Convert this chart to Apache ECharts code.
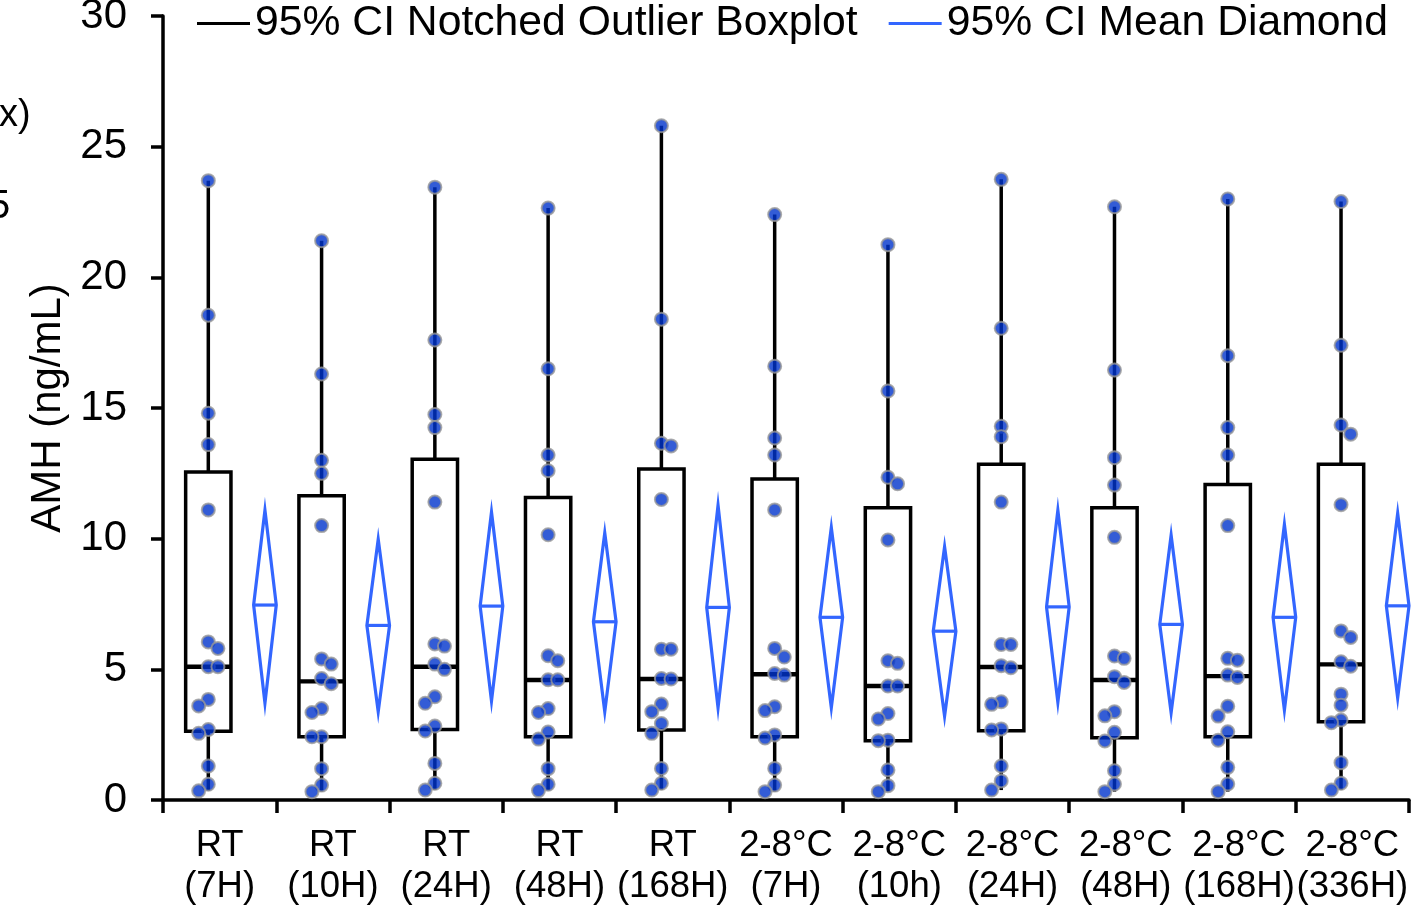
<!DOCTYPE html>
<html>
<head>
<meta charset="utf-8">
<script src="https://cdn.jsdelivr.net/npm/echarts@6/dist/echarts.min.js"></script>
<style>
  html, body { margin: 0; padding: 0; background: #ffffff; }
  #chart { width: 1427px; height: 905px; }
</style>
</head>
<body>
<div id="chart"></div>
<script>
// Storage conditions (x categories)
const categories = [
  'RT\n(7H)', 'RT\n(10H)', 'RT\n(24H)', 'RT\n(48H)', 'RT\n(168H)',
  '2-8°C\n(7H)', '2-8°C\n(10h)', '2-8°C\n(24H)', '2-8°C\n(48H)', '2-8°C\n(168H)', '2-8°C\n(336H)'
];

// Individual AMH results (ng/mL) for each condition
const amhRT7 = [23.7, 18.55, 14.8, 13.6, 11.1, 6.05, 5.8, 5.1, 5.1, 3.85, 3.6, 2.7, 2.55, 1.3, 0.6, 0.35];
const amhRT10 = [21.4, 16.3, 13.0, 12.5, 10.5, 5.4, 5.2, 4.65, 4.45, 3.5, 3.35, 2.42, 2.42, 1.2, 0.57, 0.32];
const amhRT24 = [23.45, 17.6, 14.75, 14.25, 11.4, 5.97, 5.89, 5.2, 5.0, 3.95, 3.7, 2.83, 2.64, 1.4, 0.64, 0.38];
const amhRT48 = [22.65, 16.5, 13.2, 12.6, 10.15, 5.52, 5.33, 4.6, 4.6, 3.5, 3.35, 2.6, 2.33, 1.2, 0.6, 0.36];
const amhRT168 = [25.8, 18.4, 13.65, 13.55, 11.5, 5.77, 5.77, 4.65, 4.63, 3.67, 3.38, 2.93, 2.55, 1.21, 0.64, 0.38];
const amhC7 = [22.4, 16.6, 13.85, 13.2, 11.1, 5.8, 5.47, 4.84, 4.78, 3.57, 3.42, 2.49, 2.37, 1.21, 0.57, 0.32];
const amhC10 = [21.25, 15.65, 12.35, 12.1, 9.95, 5.33, 5.23, 4.36, 4.36, 3.31, 3.1, 2.29, 2.27, 1.15, 0.55, 0.32];
const amhC24 = [23.75, 18.05, 14.3, 13.9, 11.4, 5.95, 5.95, 5.14, 5.06, 3.76, 3.66, 2.72, 2.68, 1.3, 0.73, 0.38];
const amhC48 = [22.7, 16.45, 13.1, 12.05, 10.05, 5.51, 5.42, 4.72, 4.5, 3.38, 3.22, 2.59, 2.26, 1.12, 0.61, 0.32];
const amhC168 = [23.0, 17.0, 14.25, 13.2, 10.5, 5.42, 5.35, 4.78, 4.69, 3.59, 3.21, 2.61, 2.29, 1.25, 0.61, 0.32];
const amhC336 = [22.9, 17.4, 14.35, 14.0, 11.3, 6.47, 6.22, 5.29, 5.12, 4.05, 3.63, 3.06, 2.96, 1.43, 0.64, 0.38];

// Box plot summaries: [lower whisker, Q1, median, Q3, upper whisker]
const boxStats = [
  [0.35, 2.63, 5.10, 12.55, 23.70],
  [0.32, 2.42, 4.54, 11.64, 21.40],
  [0.38, 2.70, 5.10, 13.04, 23.45],
  [0.36, 2.42, 4.59, 11.58, 22.65],
  [0.38, 2.68, 4.63, 12.67, 25.80],
  [0.32, 2.42, 4.81, 12.28, 22.40],
  [0.32, 2.27, 4.36, 11.18, 21.25],
  [0.38, 2.65, 5.09, 12.85, 23.75],
  [0.32, 2.38, 4.59, 11.18, 22.70],
  [0.32, 2.42, 4.74, 12.07, 23.00],
  [0.38, 2.99, 5.19, 12.85, 22.90]
];

// Mean with 95% CI: [lower, mean, upper]
const meanCI = [
  [3.71, 7.46, 11.09],
  [3.38, 6.68, 9.98],
  [3.79, 7.42, 11.02],
  [3.38, 6.82, 10.22],
  [3.53, 7.37, 11.28],
  [3.53, 6.99, 10.43],
  [3.21, 6.46, 9.69],
  [3.74, 7.39, 11.09],
  [3.34, 6.72, 10.13],
  [3.44, 6.99, 10.54],
  [3.91, 7.43, 10.97]
];

const groups = [amhRT7, amhRT10, amhRT24, amhRT48, amhRT168, amhC7, amhC10, amhC24, amhC48, amhC168, amhC336];

const yMin = 0, yMax = 30, yStep = 5;
const BOX_NAME = '95% CI Notched Outlier Boxplot';
const DIAMOND_NAME = '95% CI Mean Diamond';

// Layout inside each category slot (slot width = 1 on the helper value axis)
const BOX_POS = 0.4, BOX_HALF = 0.2;
const DIA_POS = 0.9, DIA_HALF = 0.1;

const FONT = "'Liberation Sans', Arial, Helvetica, sans-serif";
const BLUE_LINE = '#3366ff';
const LINE_W = 3.5;

// Simple swarm layout: nudge a point sideways when it would sit on top of another one
function swarm(vals, center) {
  const V_GAP = 0.4, X_STEP = 0.085, X_GAP = 0.07;
  const order = vals.map((v, k) => k).sort((a, b) => vals[b] - vals[a]);
  const placed = [];
  const out = [];
  order.forEach((k, rank) => {
    const v = vals[k];
    const dir = rank < vals.length / 2 + 1 ? 1 : -1;
    let off = 0, n = 0;
    while (placed.some(p => Math.abs(p.v - v) < V_GAP && Math.abs(p.off - off) < X_GAP)) {
      n++;
      off = dir * n * X_STEP;
    }
    placed.push({ v, off });
    out.push([center + off, v]);
  });
  return out;
}

const boxData = boxStats.map((s, i) => [i].concat(s));
const diamondData = meanCI.map((s, i) => [i].concat(s));
const pointData = [];
groups.forEach((vals, i) => swarm(vals, i + BOX_POS).forEach(p => pointData.push(p)));

function renderBox(params, api) {
  const c = api.value(0) + BOX_POS;
  const lo = api.value(1), q1 = api.value(2), med = api.value(3), q3 = api.value(4), hi = api.value(5);
  const tl = api.coord([c - BOX_HALF, q3]);
  const br = api.coord([c + BOX_HALF, q1]);
  const xm = api.coord([c, med])[0];
  const yMed = api.coord([c, med])[1];
  const yHi = api.coord([c, hi])[1];
  const yLo = api.coord([c, lo])[1];
  const stroke = { stroke: '#000000', lineWidth: LINE_W };
  return {
    type: 'group',
    children: [
      { type: 'line', shape: { x1: xm, y1: yHi, x2: xm, y2: tl[1] }, style: stroke },
      { type: 'line', shape: { x1: xm, y1: br[1], x2: xm, y2: yLo }, style: stroke },
      { type: 'rect', shape: { x: tl[0], y: tl[1], width: br[0] - tl[0], height: br[1] - tl[1] },
        style: { fill: '#ffffff', stroke: '#000000', lineWidth: LINE_W } },
      { type: 'line', shape: { x1: tl[0], y1: yMed, x2: br[0], y2: yMed },
        style: { stroke: '#000000', lineWidth: 4.4 } }
    ]
  };
}

function renderDiamond(params, api) {
  const c = api.value(0) + DIA_POS;
  const lo = api.value(1), mean = api.value(2), hi = api.value(3);
  const top = api.coord([c, hi]);
  const bottom = api.coord([c, lo]);
  const left = api.coord([c - DIA_HALF, mean]);
  const right = api.coord([c + DIA_HALF, mean]);
  const style = { stroke: BLUE_LINE, lineWidth: 3.2, fill: null };
  return {
    type: 'group',
    children: [
      { type: 'polygon', shape: { points: [top, right, bottom, left] }, style: style },
      { type: 'line', shape: { x1: left[0], y1: left[1], x2: right[0], y2: right[1] }, style: style }
    ]
  };
}

const chart = echarts.init(document.getElementById('chart'));
chart.setOption({
  backgroundColor: '#ffffff',
  animation: false,
  textStyle: { fontFamily: FONT, color: '#000000' },
  grid: { left: 163, right: 18, top: 16, bottom: 105, containLabel: false, outerBoundsMode: 'none' },
  legend: {
    left: 197,
    top: 2,
    padding: 0,
    itemGap: 31,
    itemWidth: 53,
    itemHeight: 3,
    selectedMode: false,
    textStyle: { fontSize: 42.7, color: '#000000', fontFamily: FONT },
    data: [
      { name: BOX_NAME, icon: 'rect', itemStyle: { color: '#000000' } },
      { name: DIAMOND_NAME, icon: 'rect', itemStyle: { color: BLUE_LINE } }
    ]
  },
  xAxis: [
    {
      type: 'category',
      data: categories,
      boundaryGap: true,
      axisLine: { show: true, onZero: false, lineStyle: { color: '#000000', width: LINE_W } },
      axisTick: { show: true, interval: 0, length: 13, lineStyle: { color: '#000000', width: LINE_W } },
      axisLabel: {
        interval: 0, margin: 25, fontSize: 36.5, lineHeight: 41,
        color: '#000000', fontFamily: FONT
      },
      splitLine: { show: false }
    },
    {
      type: 'value', min: 0, max: categories.length, show: false,
      axisLine: { show: false }, splitLine: { show: false }
    }
  ],
  yAxis: {
    type: 'value',
    min: yMin, max: yMax, interval: yStep,
    name: 'AMH (ng/mL)',
    nameLocation: 'middle',
    nameGap: 72,
    nameTextStyle: { fontSize: 42, color: '#000000', fontFamily: FONT },
    axisLine: { show: true, lineStyle: { color: '#000000', width: LINE_W } },
    axisTick: { show: true, length: 12, lineStyle: { color: '#000000', width: LINE_W } },
    axisLabel: { fontSize: 42, margin: 36, color: '#000000', fontFamily: FONT },
    splitLine: { show: false }
  },
  graphic: [
    { type: 'text', left: -1, top: 97, style: { text: 'x)', font: '38px ' + FONT, fill: '#000000' } },
    { type: 'text', left: -12, top: 187, style: { text: '5', font: '40px ' + FONT, fill: '#000000' } }
  ],
  series: [
    {
      name: BOX_NAME,
      type: 'custom',
      xAxisIndex: 1,
      renderItem: renderBox,
      data: boxData,
      encode: { x: 0, y: [1, 2, 3, 4, 5] },
      itemStyle: { color: '#000000' },
      z: 2
    },
    {
      name: DIAMOND_NAME,
      type: 'custom',
      xAxisIndex: 1,
      renderItem: renderDiamond,
      data: diamondData,
      encode: { x: 0, y: [1, 2, 3] },
      itemStyle: { color: BLUE_LINE },
      z: 3
    },
    {
      name: 'AMH',
      type: 'scatter',
      xAxisIndex: 1,
      data: pointData,
      symbol: 'circle',
      symbolSize: 13,
      itemStyle: { color: '#0033cc', borderColor: '#999999', borderWidth: 2 },
      z: 4
    }
  ]
});
</script>
</body>
</html>
